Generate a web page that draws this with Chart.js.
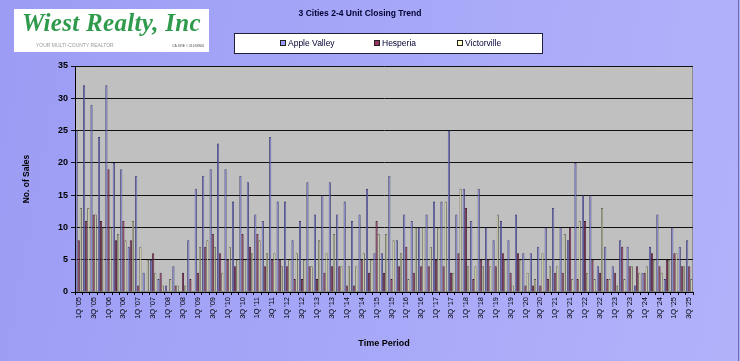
<!DOCTYPE html>
<html>
<head>
<meta charset="utf-8">
<script src="https://cdn.jsdelivr.net/npm/chart.js@4/dist/chart.umd.min.js"></script>
<style>
  html, body { margin:0; padding:0; }
  body { width:740px; height:361px; overflow:hidden; position:relative;
         background: linear-gradient(100deg, #9c9cf4 0%, #a6a6f8 45%, #b2b2fb 100%);
         font-family: "Liberation Sans", Arial, sans-serif; }
  #c { position:absolute; left:0; top:0; }
  #title { position:absolute; left:260px; width:200px; top:8px; text-align:center;
           font-weight:bold; font-size:8.5px; color:#000033; }
  #legend { position:absolute; left:234px; top:33px; width:307px; height:19px;
            background:#fff; border:1px solid #20203a; }
  .li { position:absolute; top:4px; font-size:8.5px; color:#000033; line-height:10px; }
  .mk { display:inline-block; width:4px; height:4px; border:1px solid #222; margin-right:2px; vertical-align:0px; }
  #logo { position:absolute; left:14px; top:9px; width:195px; height:43px; background:#fff; }
  #logo .big { position:absolute; left:8px; top:0px; font-family:"Liberation Serif", serif; font-style:italic;
               font-weight:bold; font-size:25px; color:#2f9a4c; letter-spacing:0.3px; white-space:nowrap; }
  #logo .small { position:absolute; left:22px; top:33px; font-size:5px; color:#9a9a9a; white-space:nowrap; }
  #logo .dre { position:absolute; left:158px; top:35px; font-size:3.5px; color:#555; white-space:nowrap; }
  #rb { position:absolute; right:1px; top:0; width:1px; height:361px; background:#6a6ab8; }
</style>
</head>
<body>
<canvas id="c" width="740" height="361"></canvas>
<div id="logo"><div class="big">Wiest Realty, Inc</div><div class="small">YOUR MULTI-COUNTY REALTOR</div><div class="dre">CA DRE # 01168806</div></div>
<div id="title">3 Cities 2-4 Unit Closing Trend</div>
<div id="legend">
  <div class="li" style="left:45px"><span class="mk" style="background:#9999ff"></span>Apple Valley</div>
  <div class="li" style="left:139px"><span class="mk" style="background:#993366"></span>Hesperia</div>
  <div class="li" style="left:222px"><span class="mk" style="background:#ffffcc"></span>Victorville</div>
</div>
<div id="rb"></div>
<script>
const years = [];
for (let y = 5; y <= 25; y++) years.push(y);
const categories = [];
years.forEach(y => { for (let q = 1; q <= 4; q++) { if (y === 25 && q > 3) break; categories.push(q + "Q '" + String(y).padStart(2, "0")); } });

const appleValley = [25,32,29,24,32,20,19,7,18,3,5,2,1,4,0,8,16,18,19,23,19,14,18,17,12,11,24,14,14,8,11,17,12,15,17,12,14,11,12,16,6,6,18,8,12,11,10,12,14,14,25,12,16,11,16,10,8,11,8,12,6,6,7,10,13,10,8,20,15,15,4,7,4,8,7,1,3,7,12,2,10,7,8];
const hesperia    = [8,11,12,11,19,8,11,8,1,0,6,3,0,1,3,2,3,7,9,6,5,4,9,7,9,4,5,5,4,2,2,4,2,3,4,4,1,1,5,3,11,3,2,4,7,3,4,4,5,4,3,6,13,2,5,5,4,6,3,6,1,1,1,2,3,3,10,2,11,5,3,2,3,7,4,4,3,6,4,5,6,4,4];
const victorville = [13,13,12,10,10,9,8,11,7,5,3,1,2,1,1,0,7,8,7,3,7,5,5,6,8,6,6,4,5,6,5,4,8,6,9,4,4,4,6,5,9,9,8,6,2,10,10,7,10,14,3,16,4,4,4,4,12,5,1,5,3,2,6,4,4,9,2,11,3,2,13,2,1,2,4,3,4,5,3,5,6,4,2];
const yTicks = [0,5,10,15,20,25,30,35];

const plotBg = {
  id: 'plotBg',
  beforeDraw(chart) {
    const {ctx, chartArea: a} = chart;
    ctx.save();
    ctx.fillStyle = '#c0c0c0';
    ctx.fillRect(a.left, a.top, a.right - a.left, a.bottom - a.top);
    ctx.strokeStyle = '#8c8c8c';
    ctx.lineWidth = 1;
    ctx.strokeRect(a.left + 0.5, a.top + 0.5, a.right - a.left - 1, a.bottom - a.top - 1);
    ctx.restore();
  }
};

const common = { borderWidth: 0.8, categoryPercentage: 0.85, barPercentage: 1.0 };
new Chart(document.getElementById('c'), {
  type: 'bar',
  data: {
    labels: categories,
    datasets: [
      Object.assign({ label: 'Apple Valley', data: appleValley, backgroundColor: '#9999ff', borderColor: '#2e2e60' }, common),
      Object.assign({ label: 'Hesperia', data: hesperia, backgroundColor: '#993366', borderColor: '#3a1028' }, common),
      Object.assign({ label: 'Victorville', data: victorville, backgroundColor: '#ffffcc', borderColor: '#55554a' }, common)
    ]
  },
  options: {
    responsive: false,
    animation: false,
    devicePixelRatio: 1,
    layout: { padding: { left: 22, top: 66, right: 47, bottom: 0 } },
    plugins: { legend: { display: false }, title: { display: false }, tooltip: { enabled: false } },
    scales: {
      y: {
        min: 0, max: 35,
        afterBuildTicks(s) { s.ticks = yTicks.map(v => ({ value: v })); },
        afterFit(s) { s.width = 53; },
        ticks: { font: { family: 'Liberation Sans', weight: 'bold', size: 9 }, color: '#000', padding: 3 },
        grid: { color: '#111', lineWidth: 1, tickLength: 4 },
        border: { color: '#000' },
        title: { display: true, text: 'No. of Sales', font: { family: 'Liberation Sans', weight: 'bold', size: 8.5 }, color: '#000', padding: 0 }
      },
      x: {
        afterFit(s) { s.height = 69; },
        ticks: {
          autoSkip: false, maxRotation: 90, minRotation: 90, padding: 2,
          font: { family: 'Liberation Sans', size: 7.5 }, color: '#000',
          callback(v, i) { return i % 2 === 0 ? categories[i] : ''; }
        },
        grid: { display: true, drawOnChartArea: false, offset: true, color: '#000', tickLength: 3 },
        border: { color: '#000' },
        title: { display: true, text: 'Time Period', font: { family: 'Liberation Sans', weight: 'bold', size: 9 }, color: '#000', padding: { top: 0, bottom: 12 } }
      }
    }
  },
  plugins: [plotBg]
});
</script>
</body>
</html>
